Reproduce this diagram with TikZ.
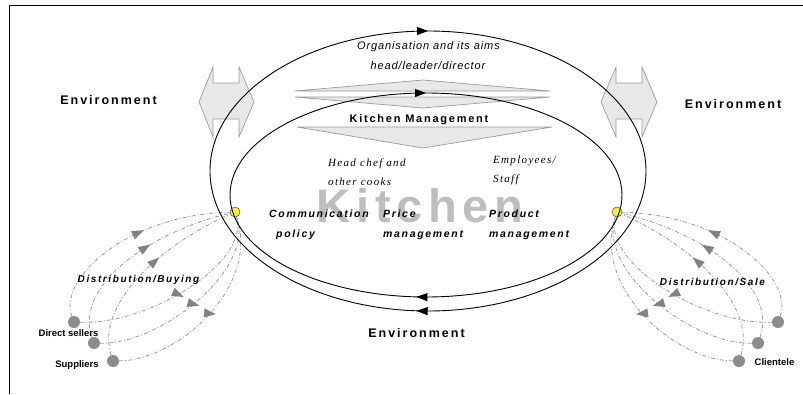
\documentclass[tikz,border=0pt]{standalone}
\usepackage{fontspec}
\setmainfont{Liberation Sans}
\newfontfamily\spacedsans[LetterSpace=16]{Liberation Sans}
\newfontfamily\bigsans[LetterSpace=12]{Liberation Sans}
\newfontfamily\slightsans[LetterSpace=8]{Liberation Sans}
\newfontfamily\spacedserif[LetterSpace=12]{Liberation Serif}
\usetikzlibrary{arrows.meta, decorations.markings}

\definecolor{shapegrey}{HTML}{E8E8E8}
\definecolor{edgegrey}{HTML}{9A9A9A}
\definecolor{loopgrey}{HTML}{999999}
\definecolor{dotgrey}{HTML}{8C8C8C}
\definecolor{wordgrey}{HTML}{BEBEBE}
\definecolor{hubyellow}{HTML}{F4F030}

\newcommand{\looptip}[1]{\fill[loopgrey!85!black, rotate=#1] (6pt,0) -- (-6pt,4.5pt) -- (-6pt,-4.5pt) -- cycle;}

\begin{document}
\begin{tikzpicture}[
    x=1pt, y=-1pt,
    orbit/.style={draw, line width=0.9pt, postaction={decorate},
        decoration={markings,
          mark=at position 0.26 with {\arrow{Triangle[length=11pt,width=8pt]}},
          mark=at position 0.75 with {\arrow{Triangle[length=11pt,width=8pt]}}}},
    greyshape/.style={fill=shapegrey, draw=edgegrey, line width=0.7pt},
    flowline/.style={loopgrey, line width=0.8pt, dash pattern=on 4pt off 2pt on 1pt off 2pt},
    flowin/.style={flowline, postaction={decorate},
        decoration={markings, mark=at position 0.55 with {\looptip{0}}}},
    flowbackL/.style={flowline, postaction={decorate},
        decoration={markings, mark=at position 0.5 with {\looptip{-55}}}},
    flowbackR/.style={flowline, postaction={decorate},
        decoration={markings, mark=at position 0.5 with {\looptip{55}}}},
    hub/.style={circle, fill=hubyellow, draw=black!70, line width=0.5pt,
                inner sep=0pt, minimum size=10pt},
    party/.style={circle, fill=dotgrey, inner sep=0pt, minimum size=12pt},
    envtext/.style={anchor=base, inner sep=0pt,
                    font=\spacedsans\bfseries\fontsize{12.5}{15}\selectfont},
    aimtext/.style={anchor=base, inner sep=0pt,
                    font=\slightsans\itshape\fontsize{11}{13}\selectfont},
    stafftext/.style={anchor=base west, inner sep=0pt, align=left,
                      font=\spacedserif\itshape\fontsize{11}{19}\selectfont},
    tooltext/.style={anchor=base west, inner sep=0pt, align=left,
                     font=\spacedsans\bfseries\itshape\fontsize{10.5}{20}\selectfont},
    flowtext/.style={anchor=base, inner sep=0pt,
                     font=\spacedsans\bfseries\itshape\fontsize{10}{12}\selectfont},
    partytext/.style={anchor=base, inner sep=0pt,
                      font=\bfseries\fontsize{9.5}{11}\selectfont},
]
\useasboundingbox (0,0) rectangle (803,394);
\draw[line width=1pt] (9,394) -- (9,5) -- (803,5);

% exchange with the environment
\draw[greyshape] (199,102) -- (213,67) -- (213,83) -- (239,83) -- (239,67) -- (254,102)
    -- (239,137) -- (239,119) -- (213,119) -- (213,137) -- cycle;
\draw[greyshape] (601,102) -- (616,67) -- (616,83) -- (642,83) -- (642,67) -- (657,102)
    -- (642,137) -- (642,119) -- (616,119) -- (616,137) -- cycle;

% management wedges
\draw[greyshape] (295,91) -- (423,80) -- (550,91) -- cycle;
\draw[greyshape] (295,97) -- (550,97) -- (423,108) -- cycle;
\draw[greyshape] (297,127) -- (552,127) -- (423,148) -- cycle;

\node[anchor=base, inner sep=0pt, text=wordgrey,
      font=\bigsans\bfseries\fontsize{47}{52}\selectfont] (kitchenword) at (420,222) {Kitchen};

% buying side
\node[hub] (hubL) at (235,212) {};
\node[party] (sellers) at (74,322) {};
\node[party] (traders) at (94,343) {};
\node[party] (suppliers) at (113,361) {};
\draw[flowin] (sellers) .. controls (58,280) and (125,215) .. (hubL);
\draw[flowbackL] (sellers) .. controls (150,325) and (250,262) .. (hubL);
\draw[flowin] (traders) .. controls (75,290) and (140,235) .. (hubL);
\draw[flowbackL] (traders) .. controls (160,345) and (255,270) .. (hubL);
\draw[flowin] (suppliers) .. controls (95,305) and (160,245) .. (hubL);
\draw[flowbackL] (suppliers) .. controls (180,360) and (260,285) .. (hubL);

% selling side
\node[hub] (hubR) at (617,212) {};
\node[party] (guestsA) at (778,322) {};
\node[party] (guestsB) at (758,343) {};
\node[party] (clientele) at (739,361) {};
\draw[flowin] (guestsA) .. controls (794,280) and (727,215) .. (hubR);
\draw[flowbackR] (guestsA) .. controls (702,325) and (602,262) .. (hubR);
\draw[flowin] (guestsB) .. controls (777,290) and (712,235) .. (hubR);
\draw[flowbackR] (guestsB) .. controls (692,345) and (597,270) .. (hubR);
\draw[flowin] (clientele) .. controls (757,305) and (692,245) .. (hubR);
\draw[flowbackR] (clientele) .. controls (672,360) and (592,285) .. (hubR);

% organisation and kitchen cycles
\draw[orbit] (428,171) ellipse [x radius=218, y radius=140];
\draw[orbit] (426,195) ellipse [x radius=196, y radius=102];

\node[envtext] (envleft) at (108.5,104) {Environment};
\node[envtext] (envright) at (733,108) {Environment};
\node[envtext] (envbottom) at (416.5,337) {Environment};
\node[aimtext] (orgaims) at (428.5,49) {Organisation and its aims};
\node[aimtext] (leaders) at (428,69) {head/leader/director};
\node[anchor=base, inner sep=0pt, font=\spacedsans\bfseries\fontsize{11}{13}\selectfont]
    (kmgmt) at (419,122) {Kitchen Management};
\node[stafftext] (chefs) at (328,185) {Head chef and\\other cooks};
\node[stafftext] (staff) at (493,182) {Employees/\\Staff};
\node[tooltext] (commpolicy) at (269,237) {Communication\\\hspace*{7pt}policy};
\node[tooltext] (pricemgmt) at (383,237) {Price\\management};
\node[tooltext] (productmgmt) at (489,237) {Product\\management};
\node[flowtext] (distbuy) at (138.5,282) {Distribution/Buying};
\node[flowtext] (distsale) at (712.5,285) {Distribution/Sale};
\node[partytext] (lblsellers) at (68.5,336) {Direct sellers};
\node[partytext] (lblsuppliers) at (77,367) {Suppliers};
\node[partytext] (lblclientele) at (774.5,365) {Clientele};
\end{tikzpicture}
\end{document}
